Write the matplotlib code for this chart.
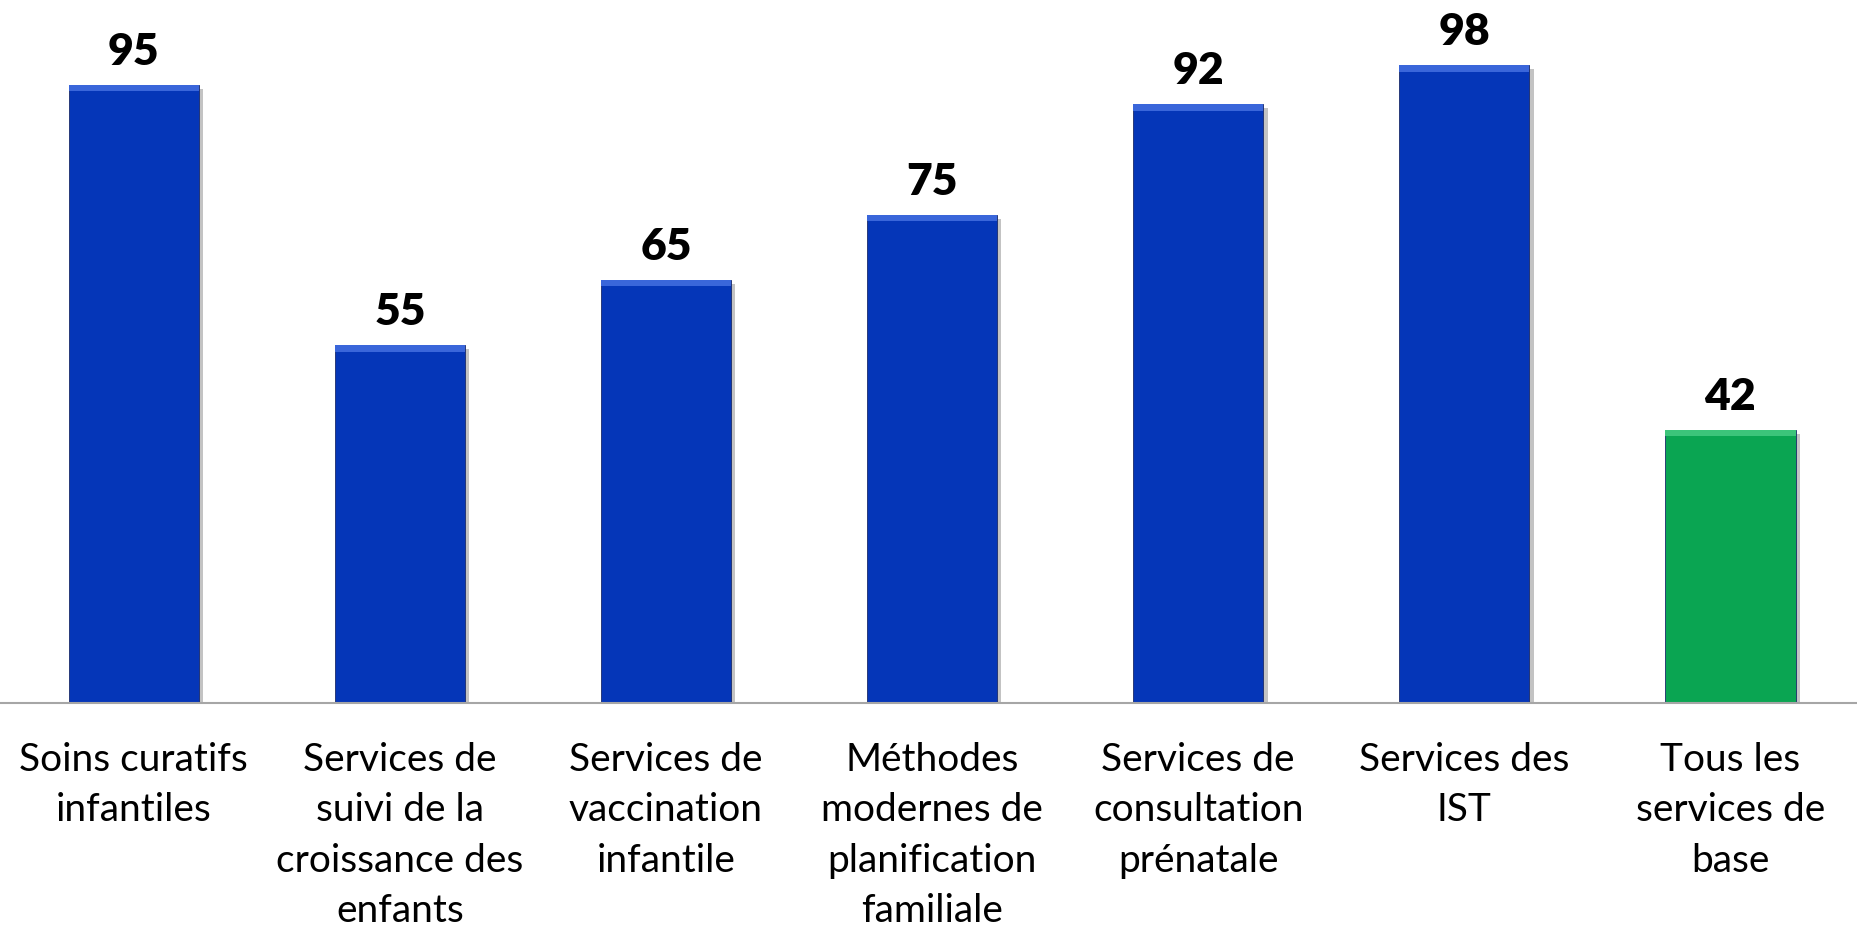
import numpy as np
import matplotlib.pyplot as plt
import matplotlib.patheffects as pe

categories = ["Soins curatifs\ninfantiles",
              "Services de\nsuivi de la\ncroissance des\nenfants",
              "Services de\nvaccination\ninfantile",
              "Méthodes\nmodernes de\nplanification\nfamiliale",
              "Services de\nconsultation\nprénatale",
              "Services des\nIST",
              "Tous les\nservices de\nbase"]
values = [95, 55, 65, 75, 92, 98, 42]
colors = ["#0536B8"] * 6 + ["#0AA552"]
tops = ["#3A66DA"] * 6 + ["#3CC47A"]

plt.rcParams['font.family'] = ['Lato', 'DejaVu Sans']

fig = plt.figure(figsize=(18.57, 9.32), dpi=100)
ax = fig.add_axes([0, 0.2457, 1, 0.944 - 0.2457])

x = np.arange(len(values))
bars = ax.bar(x, values, width=0.49, color=colors, edgecolor="#1a2a6a", linewidth=0.6,
              path_effects=[pe.SimplePatchShadow(offset=(3, -3), shadow_rgbFace="#888888", alpha=0.5),
                            pe.Normal()])
# light bevel on top of each bar
ax.bar(x, [1.0] * len(values), bottom=np.array(values) - 1.0, width=0.49, color=tops, linewidth=0)

for xi, v in zip(x, values):
    ax.text(xi, v + 2.0, str(v), ha="center", va="bottom", fontsize=32, fontweight="heavy",
            clip_on=False)

ax.set_xlim(-0.503, 6.476)
ax.set_ylim(0, 100)
ax.set_xticks(x)
ax.set_xticklabels(categories, fontsize=28, linespacing=1.5)
ax.tick_params(axis="x", length=0, pad=28)
ax.set_yticks([])
for s in ["top", "left", "right"]:
    ax.spines[s].set_visible(False)
ax.spines["bottom"].set_color("#A6A6A6")
ax.spines["bottom"].set_linewidth(1.5)

fig.savefig("out.png", dpi=100)
